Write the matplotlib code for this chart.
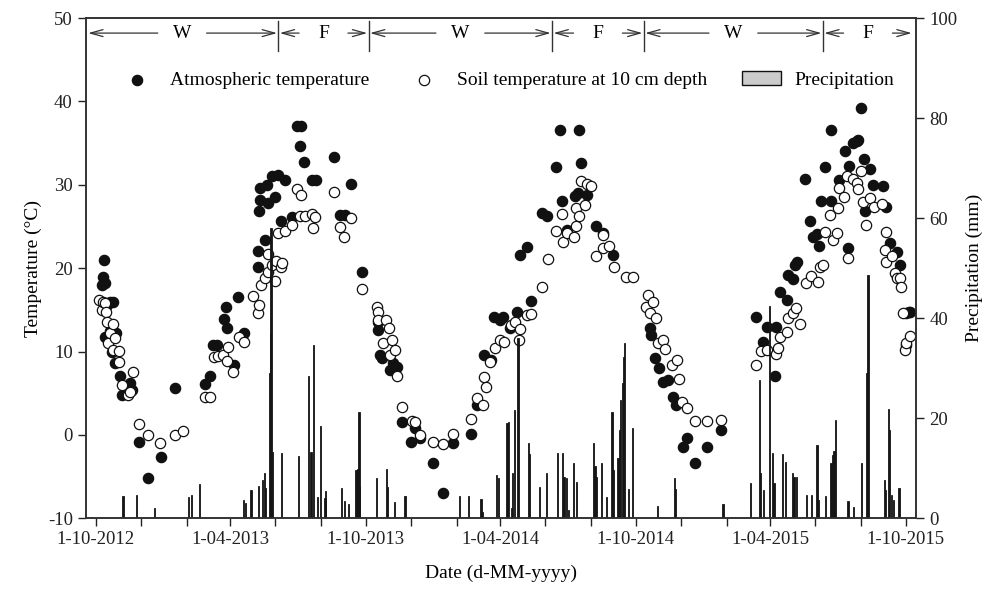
import numpy as np
import matplotlib
matplotlib.use("Agg")
import matplotlib.pyplot as plt
import matplotlib.dates as mdates
from matplotlib.patches import Patch
from matplotlib.ticker import FuncFormatter

plt.rcParams["font.family"] = "serif"
plt.rcParams["font.serif"] = ["Liberation Serif", "DejaVu Serif"]
plt.rcParams["axes.unicode_minus"] = False

# all day values are days since 1-10-2012
START = np.datetime64("2012-10-01")

atm_days = [8, 10, 11, 13, 13, 16, 19, 20, 22, 24, 26, 28, 33, 35, 46, 49, 59, 71, 88, 107,
            148, 154, 159, 164, 173, 176, 178, 187, 193, 201, 220, 220, 221, 222, 222, 229,
            231, 233, 238, 242, 247, 251, 256, 265, 272, 278, 276, 282, 292, 298, 322, 330,
            337, 345, 360,
            382, 382, 384, 387, 398, 402, 407, 414, 426, 432, 438, 456, 470, 483, 507, 515,
            525, 535, 538, 547, 551, 560, 569, 588, 574, 583, 603, 610, 622, 630, 628, 654,
            656, 648, 652, 664, 637, 677, 686, 700,
            749, 751, 756, 761, 767, 774, 780, 785, 794, 800, 810, 827, 845,
            893, 902, 907, 920, 918, 925, 934, 936, 943, 945, 948, 959, 966, 970, 975, 978,
            981, 994, 986, 994, 1005, 1013, 1017, 1019, 1024, 1029, 1031, 1034, 1038, 1040,
            1047, 1051, 1065, 1068, 1074, 1083, 1087, 1095, 1096, 1099, 1101]
atm_temp = [18.0, 19.0, 21.0, 18.2, 11.8, 15.6, 16.0, 12.5, 10.0, 15.9, 8.6, 12.2, 7.1, 4.8,
            6.2, 5.4, -0.9, -5.2, -2.7, 5.6,
            6.1, 7.1, 10.8, 10.8, 13.9, 15.3, 12.8, 8.4, 16.6, 12.2, 22.1, 20.2, 26.8, 28.2,
            29.6, 23.4, 30.0, 27.8, 31.0, 28.5, 31.2, 25.6, 30.6, 26.1, 37.1, 37.1, 34.6, 32.7,
            30.6, 30.6, 33.3, 26.4, 26.4, 30.1, 19.6,
            13.6, 12.6, 9.6, 9.2, 7.8, 8.6, 8.2, 1.6, -0.9, 0.8, -0.4, -3.4, -7.0, -1.0, 0.1,
            3.6, 9.6, 9.0, 14.1, 13.8, 14.1, 12.8, 14.7, 16.1, 21.6, 22.6, 26.6, 26.2, 32.1,
            28.1, 36.6, 36.6, 32.6, 28.6, 29.0, 28.8, 24.6, 25.1, 24.2, 21.6,
            12.8, 12.0, 9.2, 8.0, 6.3, 6.6, 4.6, 3.6, -1.4, -0.4, -3.4, -1.4, 0.6,
            14.1, 11.2, 13.0, 13.0, 7.1, 17.2, 16.2, 19.2, 18.7, 20.4, 20.7, 30.7, 25.6, 23.8,
            24.1, 22.7, 28.1, 28.1, 32.1, 36.6, 30.6, 34.0, 22.4, 32.3, 35.0, 35.3, 35.4, 39.2,
            33.1, 26.8, 31.9, 30.0, 29.9, 27.3, 23.0, 22.0, 20.4, 10.8, 14.6, 14.8, 14.8]

soil_days = [5, 8, 10, 12, 14, 15, 17, 19, 24, 24, 26, 32, 32, 35, 44, 47, 50, 59, 71, 87,
             107, 118,
             148, 154, 160, 166, 172, 177, 179, 186, 194, 201, 213, 220, 221, 224, 229, 233,
             233, 238, 242, 244, 246, 251, 252, 256, 265, 272, 276, 278, 283, 293, 294, 296,
             322, 330, 336, 345, 360,
             380, 382, 382, 389, 393, 396, 398, 400, 405, 408, 414, 427, 432, 438, 456, 470,
             483, 507, 515, 523, 525, 528, 533, 540, 547, 552, 561, 567, 572, 574, 583, 588,
             603, 611, 622, 630, 632, 637, 646, 649, 650, 654, 656, 661, 664, 669, 677, 686,
             686, 694, 701, 717, 727, 744, 746, 750, 753, 757,
             760, 767, 769, 779, 786, 788, 793, 800, 810, 827, 845,
             892, 900, 907, 920, 922, 925, 934, 936, 943, 947, 952, 960, 967, 976, 979, 983,
             986, 993, 997, 1002, 1004, 1005, 1011, 1015, 1017, 1024, 1029, 1030, 1034, 1037,
             1042, 1047, 1052, 1063, 1067, 1068, 1069, 1077, 1081, 1083, 1087, 1088, 1091,
             1094, 1096, 1101]
soil_temp = [16.2, 15.0, 16.0, 15.8, 14.8, 13.6, 11.0, 12.2, 13.3, 10.2, 11.6, 10.1, 8.8, 6.0,
             4.8, 5.1, 7.6, 1.3, 0.0, -1.0, 0.0, 0.5,
             4.6, 4.6, 9.4, 9.5, 9.6, 8.9, 10.6, 7.6, 11.7, 11.1, 16.7, 14.6, 15.6, 18.0, 18.8,
             19.5, 21.7, 20.4, 18.5, 20.9, 24.2, 20.1, 20.6, 24.5, 25.2, 29.5, 26.2, 28.8, 26.2,
             26.5, 24.8, 26.1, 29.1, 25.0, 23.7, 26.0, 17.5,
             15.4, 14.8, 13.8, 11.0, 13.8, 12.8, 9.6, 11.4, 10.2, 7.1, 3.4, 1.7, 1.5, 0.0, -0.8,
             -1.1, 0.1, 1.9, 4.4, 3.6, 7.0, 5.7, 8.7, 10.4, 11.4, 11.2, 13.2, 13.6, 11.4, 12.7,
             14.4, 14.5, 17.8, 21.1, 24.5, 26.5, 23.2, 24.2, 23.8, 25.1, 27.2, 26.3, 30.5, 27.6,
             30.1, 29.9, 21.5, 22.4, 24.0, 22.7, 20.2, 19.0, 19.0, 15.4, 16.8, 14.6, 16.0, 14.0,
             11.0, 11.4, 10.3, 8.4, 9.0, 6.7, 3.9, 3.2, 1.7, 1.7, 1.8,
             8.4, 10.1, 10.2, 9.7, 10.4, 11.8, 12.3, 14.0, 14.6, 15.2, 13.3, 18.2, 19.1, 18.4,
             20.2, 20.4, 24.3, 26.4, 23.4, 24.2, 27.2, 29.6, 28.5, 31.1, 21.2, 30.7, 30.2, 29.5,
             31.6, 27.9, 25.2, 28.4, 27.3, 27.7, 22.2, 24.3, 20.8, 21.5, 19.4, 18.8, 18.8, 17.7,
             14.6, 10.2, 11.0, 11.9]

rain_days = [37, 55, 80, 126, 130, 140, 200, 203, 210, 220, 226, 228, 230, 235, 236, 237, 239,
             251, 274, 288, 291, 294, 300, 304, 310, 311, 332, 336, 342, 352, 354, 356, 357,
             380, 393, 394, 404, 417, 419, 492, 504, 521, 523, 542, 545, 556, 558, 562, 564,
             566, 571, 585, 587, 600, 610, 624, 631, 633, 636, 639, 646, 650, 673, 675, 677,
             684, 691, 698, 700, 706, 708, 710, 712, 713, 715, 720, 726, 760, 782, 784, 848,
             885, 897, 899, 903, 911, 915, 917, 929, 932, 942, 944, 947, 961, 968, 975, 977,
             987, 994, 996, 998, 1000, 1017, 1024, 1035, 1042, 1044, 1066, 1068, 1072, 1073,
             1076, 1079, 1086]
rain_mm = [4.5, 4.7, 2.0, 4.2, 4.7, 6.9, 3.7, 3.0, 5.6, 6.5, 7.7, 9.1, 6.0, 29.0, 37.0, 58.0,
           13.3, 13.0, 12.5, 28.5, 13.3, 34.7, 4.3, 18.5, 4.0, 5.5, 6.1, 3.5, 2.9, 9.7, 9.8,
           21.3, 6.3, 8.0, 9.8, 6.2, 3.3, 4.5, 4.5, 4.5, 4.5, 3.8, 1.3, 8.7, 8.0, 19.1, 19.3,
           2.0, 9.0, 21.7, 36.0, 15.0, 12.9, 6.2, 9.1, 13.0, 13.0, 8.3, 8.0, 1.7, 11.0, 7.3,
           15.1, 10.5, 8.3, 11.1, 4.3, 21.3, 9.7, 12.0, 17.7, 23.7, 27.0, 32.3, 35.0, 5.8,
           18.0, 2.5, 8.0, 5.8, 2.9, 7.1, 27.7, 9.0, 5.7, 42.5, 13.0, 7.0, 12.9, 11.3, 9.0,
           8.3, 8.3, 4.7, 4.7, 14.6, 3.6, 4.5, 11.0, 12.7, 13.5, 19.7, 3.5, 2.3, 11.0, 29.0,
           48.7, 7.7, 5.7, 21.8, 17.7, 4.7, 3.7, 6.1]

season_labels = ["W", "F", "W", "F", "W", "F"]
season_edges = [-12, 247, 369, 617, 741, 983, 1105]


def to_dates(days):
    return START + np.array(days).astype("timedelta64[D]")


def date_label(v, pos):
    d = mdates.num2date(v)
    return "{0}-{1:02d}-{2}".format(d.day, d.month, d.year)


fig = plt.figure(figsize=(9.97, 6.03), dpi=100)
ax = fig.add_axes([0.0863, 0.1405, 0.8325, 0.8295])
ax2 = ax.twinx()

atm = ax.scatter(to_dates(atm_days), atm_temp, s=55, facecolor="#111111", edgecolor="#111111",
                 linewidth=0.9, zorder=3, label="Atmospheric temperature")
soil = ax.scatter(to_dates(soil_days), soil_temp, s=55, facecolor="white", edgecolor="#111111",
                  linewidth=0.9, zorder=4, label="Soil temperature at 10 cm depth")
ax2.bar(to_dates(rain_days), rain_mm, width=1.6, color="#151515", edgecolor="#151515",
        linewidth=0.6)
rain_patch = Patch(facecolor="#cccccc", edgecolor="#111111", linewidth=1.0,
                   label="Precipitation")

ax.set_xlim(START - np.timedelta64(13, "D"), START + np.timedelta64(1109, "D"))
ax.set_ylim(-10, 50)
ax2.set_ylim(0, 100)

ax.xaxis.set_major_locator(mdates.MonthLocator(bymonth=[4, 10]))
ax.xaxis.set_minor_locator(mdates.MonthLocator(bymonth=[2, 6, 8, 12]))
ax.xaxis.set_major_formatter(FuncFormatter(date_label))
ax.set_yticks(np.arange(-10, 51, 10))
ax2.set_yticks(np.arange(0, 101, 20))

for a in (ax, ax2):
    a.tick_params(which="both", direction="out", length=6, width=1.0, labelsize=13.5,
                  colors="#222222")
    for s in a.spines.values():
        s.set_linewidth(1.2)
        s.set_color("#333333")

ax.set_xlabel("Date (d-MM-yyyy)", fontsize=14, labelpad=12)
ax.set_ylabel("Temperature (°C)", fontsize=14, labelpad=4)
ax2.set_ylabel("Precipitation (mm)", fontsize=14, labelpad=6)

# season markers along the top
y_arr = 48.2
gap = 33
for i, lab in enumerate(season_labels):
    x0, x1 = season_edges[i], season_edges[i + 1]
    mid = (x0 + x1) / 2
    d0, d1 = to_dates([x0, x1])
    m0, m1 = to_dates([mid - gap, mid + gap])
    arrow = dict(arrowstyle="->,head_length=0.9,head_width=0.25", lw=0.9, color="#333333",
                 shrinkA=0, shrinkB=1)
    ax.annotate("", xy=(d0, y_arr), xytext=(m0, y_arr), arrowprops=arrow)
    ax.annotate("", xy=(d1, y_arr), xytext=(m1, y_arr), arrowprops=arrow)
    ax.text(to_dates([mid])[0], y_arr, lab, ha="center", va="center", fontsize=14)
    if i > 0:
        ax.plot([d0, d0], [46.0, 49.6], color="#333333", lw=1.0)

ax2.legend(handles=[atm, soil, rain_patch], loc="center left",
           bbox_to_anchor=(0.017, 0.876), ncol=3, frameon=False, fontsize=14,
           columnspacing=1.8, handletextpad=0.7, handlelength=2.0)

fig.savefig("out.png", dpi=100)
